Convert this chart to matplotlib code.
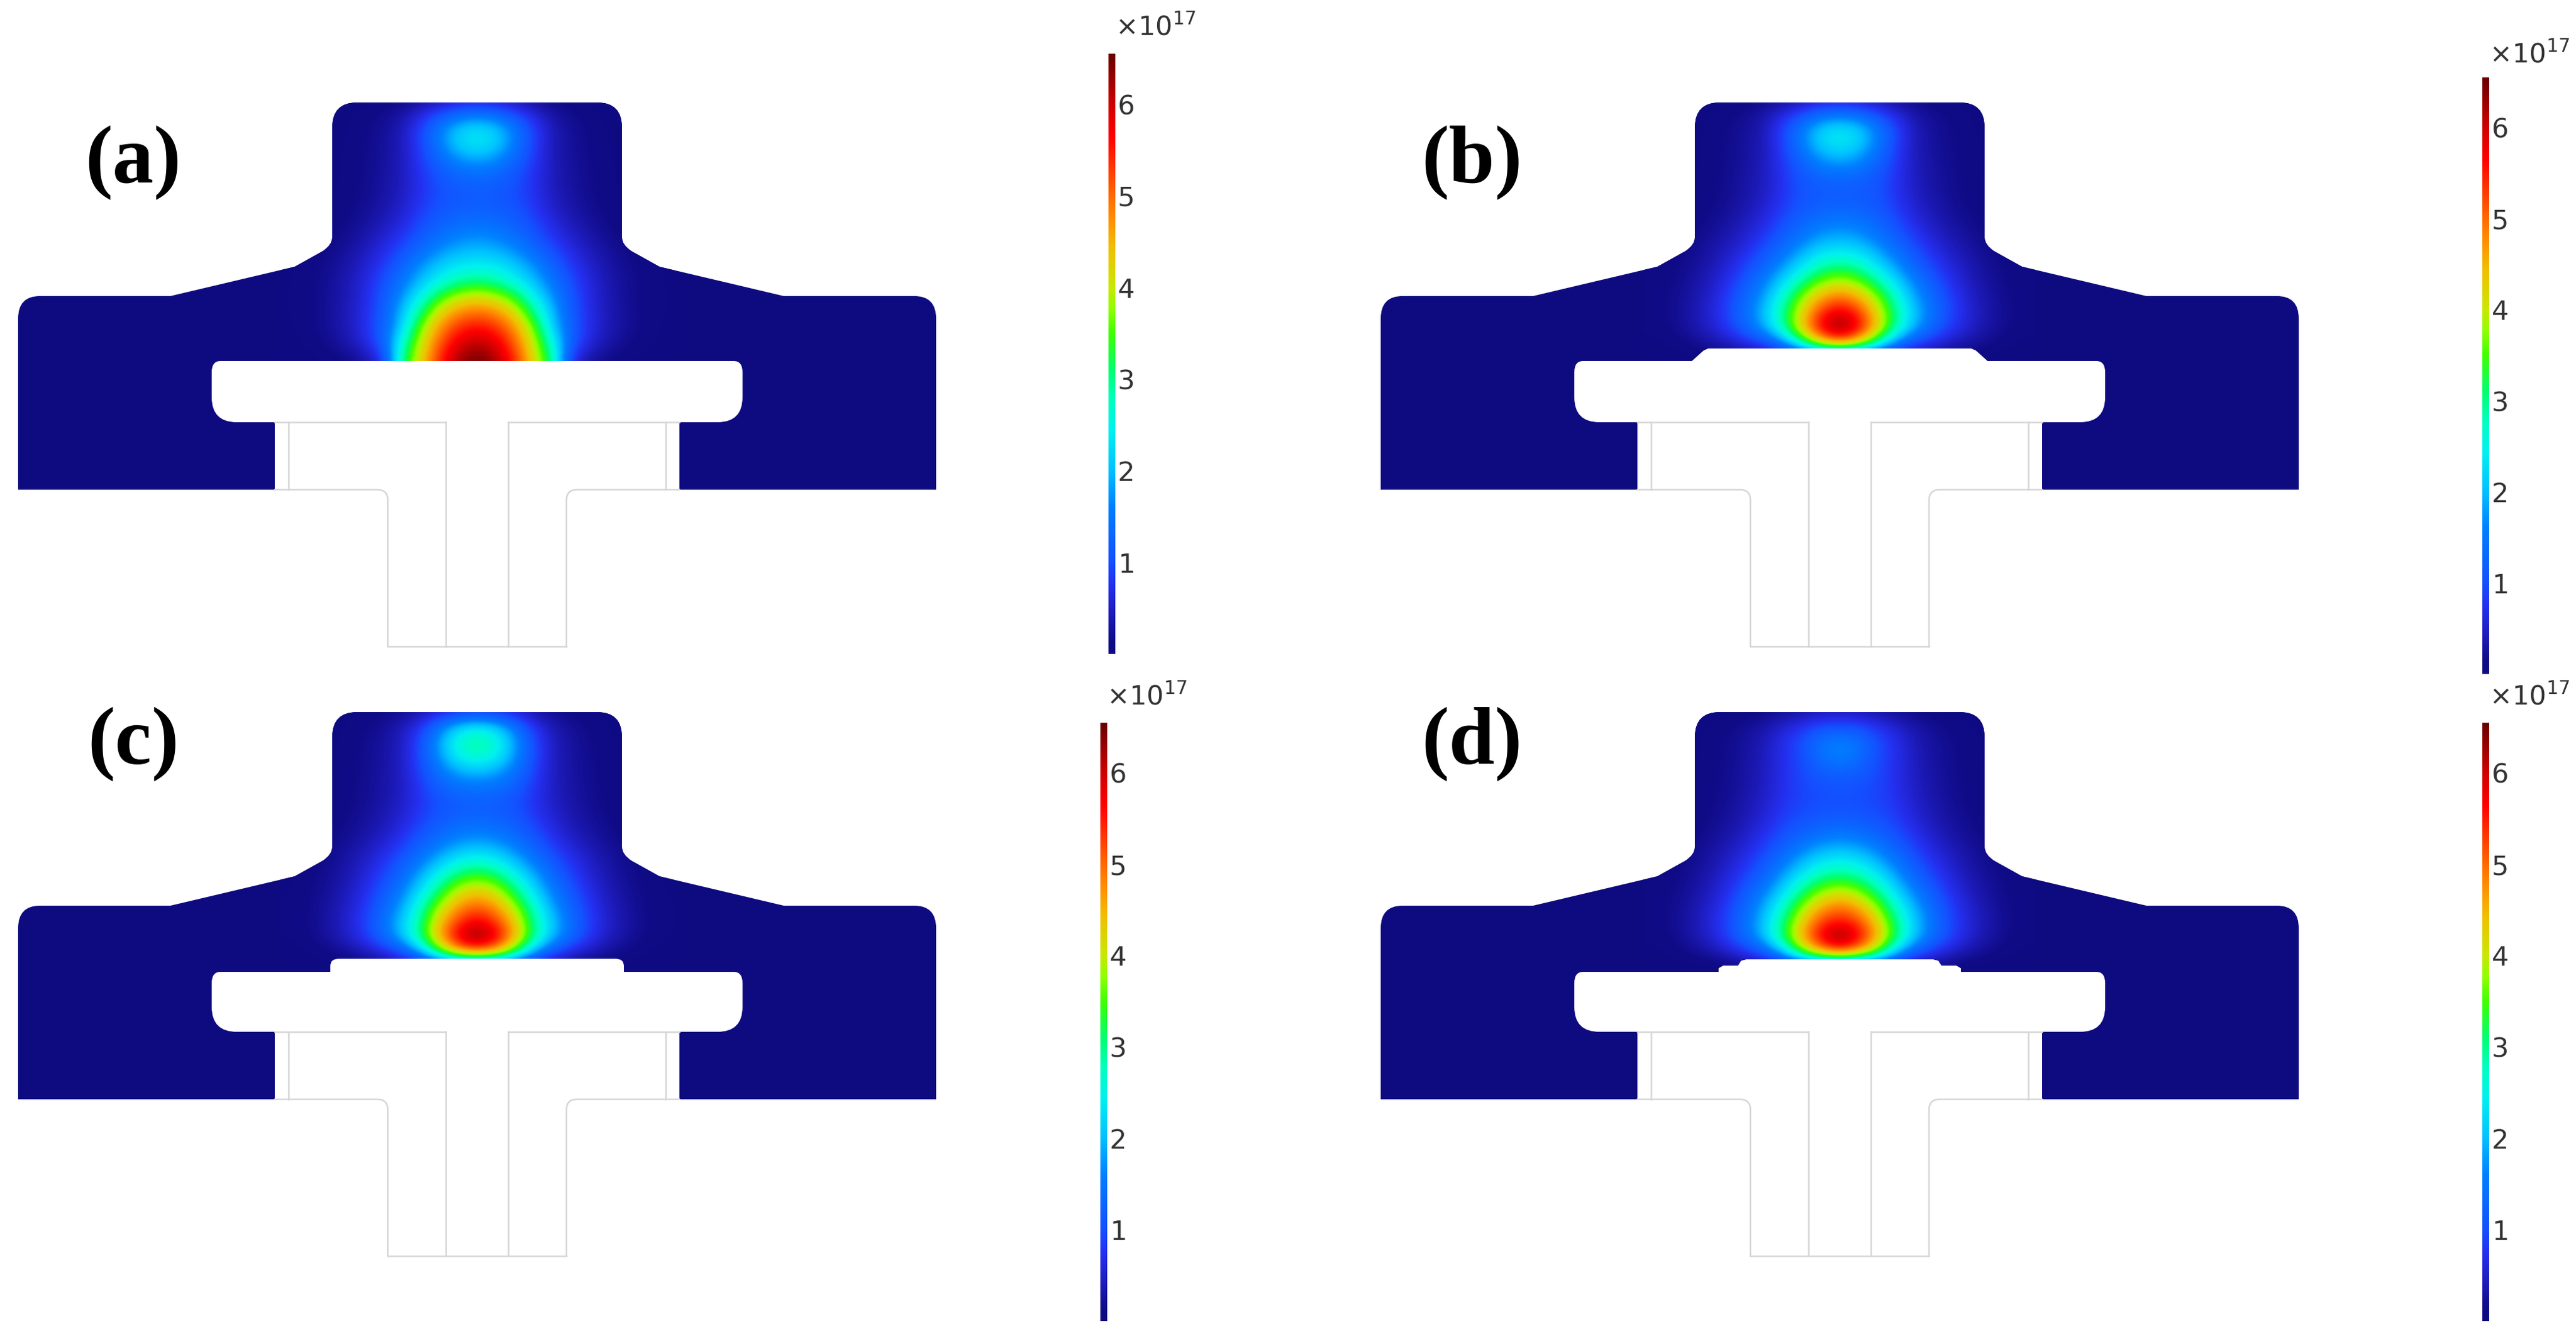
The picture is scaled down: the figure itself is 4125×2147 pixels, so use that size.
import numpy as np
import matplotlib
matplotlib.use("Agg")
import matplotlib.pyplot as plt
from matplotlib.colors import LinearSegmentedColormap, Normalize
from matplotlib.cm import ScalarMappable
from matplotlib.patches import PathPatch
from matplotlib.path import Path

plt.rcParams['mathtext.default'] = 'regular'

W, H = 4125, 2147

# density, unit 1e17, half of each panel (it is mirrored)
# columns: distance from centre line, rows: height in the picture
dx_step = 30
y_rows = [164 + 24 * i for i in range(19)]

field_a = [
    [.60, .55, .42, .28, .15, .10, .05, .03, 0, 0, 0],
    [1.7, 1.55, 1.15, .70, .34, .20, .12, .06, .02, 0, 0],
    [2.4, 2.2, 1.6, .92, .42, .24, .14, .07, .03, 0, 0],
    [2.3, 2.1, 1.5, .88, .42, .25, .15, .08, .03, 0, 0],
    [1.75, 1.6, 1.25, .82, .43, .26, .16, .09, .04, 0, 0],
    [1.3, 1.25, 1.05, .75, .44, .28, .17, .10, .04, .02, 0],
    [1.15, 1.12, 1.0, .76, .46, .30, .18, .10, .05, .03, .01],
    [1.2, 1.15, 1.05, .82, .52, .34, .21, .12, .06, .04, .02],
    [1.4, 1.35, 1.2, .96, .64, .42, .26, .15, .08, .05, .03],
    [1.7, 1.62, 1.42, 1.12, .80, .54, .34, .20, .12, .07, .04],
    [2.05, 1.98, 1.75, 1.4, 1.02, .70, .44, .27, .16, .09, .05],
    [2.5, 2.4, 2.15, 1.75, 1.28, .85, .54, .33, .19, .11, .06],
    [3.1, 2.95, 2.55, 2.05, 1.5, 1.0, .62, .37, .22, .12, .07],
    [4.2, 3.95, 3.4, 2.5, 1.75, 1.1, .65, .38, .22, .12, .07],
    [5.0, 4.8, 4.2, 3.05, 2.0, 1.15, .68, .40, .23, .13, .07],
    [5.6, 5.4, 4.75, 3.65, 2.15, 1.2, .70, .40, .23, .12, .06],
    [6.1, 5.85, 5.1, 4.0, 2.6, 1.2, .60, .33, .18, .10, .05],
    [6.5, 6.2, 5.4, 4.2, 3.0, .80, .35, .18, .10, .05, .02],
    [6.6, 6.3, 5.5, 4.3, 3.1, .50, .20, .10, .05, 0, 0],
]

field_b = [
    [.60, .55, .42, .28, .18, .11, .07, .04, .02, 0, 0],
    [1.7, 1.55, 1.15, .72, .36, .22, .14, .08, .04, .01, 0],
    [2.45, 2.25, 1.6, .95, .42, .25, .16, .09, .04, .02, 0],
    [2.3, 2.1, 1.5, .88, .43, .26, .17, .10, .05, .02, 0],
    [1.8, 1.65, 1.25, .82, .44, .28, .18, .11, .05, .03, 0],
    [1.3, 1.25, 1.08, .78, .46, .30, .19, .11, .05, .03, 0],
    [1.15, 1.12, 1.05, .78, .48, .32, .20, .12, .06, .03, .01],
    [1.25, 1.22, 1.1, .85, .55, .37, .23, .14, .07, .04, .02],
    [1.55, 1.48, 1.28, 1.0, .68, .45, .29, .18, .10, .06, .03],
    [1.9, 1.8, 1.5, 1.2, .84, .56, .37, .24, .14, .08, .04],
    [2.4, 2.3, 1.9, 1.45, 1.05, .72, .48, .30, .18, .10, .05],
    [3.1, 2.9, 2.35, 1.8, 1.3, .92, .60, .37, .22, .13, .07],
    [4.0, 3.7, 3.0, 2.25, 1.6, 1.12, .72, .44, .26, .15, .08],
    [5.0, 4.6, 3.75, 2.7, 1.85, 1.3, .85, .50, .30, .17, .10],
    [5.9, 5.4, 4.2, 3.0, 2.05, 1.4, .90, .55, .32, .18, .10],
    [6.5, 5.8, 4.4, 2.9, 1.9, 1.25, .80, .50, .30, .16, .09],
    [5.0, 4.4, 3.0, 1.7, 1.0, .70, .45, .30, .18, .10, .05],
    [.2, .2, .18, .15, .12, .10, .08, .06, .04, .03, .02],
    [0, 0, 0, 0, 0, 0, 0, 0, 0, 0, 0],
]

field_c = [
    [.80, .72, .55, .33, .20, .13, .08, .05, .02, 0, 0],
    [2.4, 2.15, 1.5, .80, .40, .24, .15, .08, .04, .01, 0],
    [3.0, 2.7, 1.85, 1.0, .47, .28, .17, .10, .05, .02, 0],
    [2.7, 2.45, 1.75, 1.0, .48, .29, .18, .11, .05, .02, 0],
    [2.0, 1.85, 1.45, .92, .48, .30, .19, .11, .06, .03, 0],
    [1.45, 1.4, 1.2, .82, .48, .31, .20, .12, .06, .03, 0],
    [1.2, 1.15, 1.02, .78, .50, .33, .21, .13, .07, .04, .01],
    [1.25, 1.22, 1.1, .85, .58, .38, .25, .15, .08, .05, .02],
    [1.55, 1.48, 1.28, 1.02, .70, .46, .30, .19, .11, .07, .03],
    [2.0, 1.88, 1.6, 1.25, .88, .60, .40, .25, .15, .08, .04],
    [2.7, 2.5, 2.05, 1.55, 1.12, .78, .50, .31, .18, .10, .05],
    [3.5, 3.25, 2.6, 1.95, 1.35, .92, .60, .36, .21, .12, .06],
    [4.4, 4.05, 3.2, 2.3, 1.6, 1.1, .70, .42, .25, .14, .07],
    [5.1, 4.75, 3.85, 2.75, 1.85, 1.25, .80, .48, .28, .15, .08],
    [5.8, 5.35, 4.4, 3.0, 2.1, 1.4, .87, .52, .30, .16, .09],
    [6.5, 5.9, 4.6, 3.1, 2.0, 1.3, .80, .47, .27, .14, .07],
    [5.0, 4.6, 3.4, 1.9, 1.05, .65, .40, .25, .15, .08, .04],
    [.2, .2, .15, .12, .10, .08, .06, .05, .03, .02, .01],
    [0, 0, 0, 0, 0, 0, 0, 0, 0, 0, 0],
]

field_d = [
    [.40, .38, .30, .22, .14, .09, .05, .03, .01, 0, 0],
    [1.05, 1.0, .78, .55, .34, .22, .14, .08, .04, .01, 0],
    [1.6, 1.45, 1.0, .72, .42, .27, .17, .10, .05, .02, 0],
    [1.6, 1.4, .98, .72, .44, .28, .18, .11, .05, .02, 0],
    [1.25, 1.15, .95, .72, .46, .30, .19, .11, .06, .03, 0],
    [1.05, 1.02, .92, .73, .48, .32, .20, .12, .06, .03, 0],
    [1.0, .98, .92, .78, .52, .35, .22, .13, .07, .03, .01],
    [1.12, 1.1, 1.0, .85, .60, .40, .26, .16, .08, .04, .02],
    [1.45, 1.38, 1.2, 1.0, .72, .48, .31, .19, .11, .06, .03],
    [1.9, 1.8, 1.55, 1.2, .88, .60, .40, .25, .15, .08, .04],
    [2.5, 2.35, 1.95, 1.5, 1.08, .75, .50, .30, .18, .10, .05],
    [3.1, 2.95, 2.45, 1.85, 1.3, .92, .60, .37, .22, .13, .07],
    [4.1, 3.75, 3.05, 2.25, 1.6, 1.12, .72, .44, .26, .15, .08],
    [4.95, 4.6, 3.75, 2.7, 1.9, 1.3, .85, .52, .30, .17, .10],
    [5.6, 5.3, 4.3, 3.05, 2.1, 1.42, .92, .57, .33, .18, .10],
    [6.5, 5.8, 4.6, 3.2, 2.05, 1.35, .88, .52, .30, .16, .09],
    [5.2, 4.7, 3.6, 2.1, 1.2, .78, .50, .30, .18, .10, .05],
    [.3, .28, .22, .18, .14, .10, .08, .05, .03, .02, .01],
    [0, 0, 0, 0, 0, 0, 0, 0, 0, 0, 0],
]

panel_names = ['(a)', '(b)', '(c)', '(d)']
panel_fields = [field_a, field_b, field_c, field_d]
centre_x = [764, 2946, 764, 2946]
shift_y = [0, 0, 976, 976]
label_xy = [(213, 260), (2357, 260), (213, 1191), (2357, 1191)]

# electrode outline, right half, (dx, y, is_curve_control)
outline_common = [(0, 164, 0), (192, 164, 0), (232, 164, 1), (232, 204, 0), (232, 380, 0),
                  (232, 392, 1), (247, 402, 0), (292, 427, 0), (491, 474, 0), (700, 474, 0),
                  (735, 474, 1), (735, 510, 0), (735, 784, 0), (324, 784, 0), (324, 676, 0),
                  (385, 676, 0), (425, 676, 1), (425, 636, 0)]
# the raised top of the inner piece differs per panel
steps = [
    [(425, 596, 0), (425, 578, 1), (411, 578, 0), (0, 578, 0)],
    [(425, 596, 0), (425, 578, 1), (411, 578, 0), (237, 578, 0), (218, 561, 0), (211, 558, 0), (0, 558, 0)],
    [(425, 598, 0), (425, 580, 1), (411, 580, 0), (235, 580, 0), (235, 570, 0), (235, 559, 1), (222, 559, 0),
     (0, 559, 0)],
    [(425, 598, 0), (425, 580, 1), (411, 580, 0), (194, 580, 0), (194, 574, 0), (187, 570, 0), (163, 570, 0),
     (158, 562, 0), (150, 560, 0), (0, 560, 0)],
]

# grey mesh lines below the cathode
grey_lines = [
    [(50, 676), (324, 676)],
    [(50, 676), (50, 1035)],
    [(302, 676), (302, 784)],
    [(143, 1035), (-143, 1035)],
]
grey_bend = [(324, 784), (160, 784), (143, 784), (143, 801), (143, 1035)]

# colour bars, in picture pixels
bar_x = [1775, 3975, 1762, 3975]
bar_top = [86, 124, 1157, 1157]
bar_bottom = [1047, 1079, 2115, 2115]
mult_xy = [(1786, 56), (3986, 100), (1772, 1128), (3986, 1128)]
bar_ticks = [1, 2, 3, 4, 5, 6]

vmax = 6.55
cmap_stops = [(0, '#0e0a80'), (.15, '#100c88'), (.3, '#1814a4'), (.5, '#2020c8'), (.75, '#2430f0'), (1, '#1450ff'),
              (1.6, '#0080ff'), (2, '#00c0ff'), (2.43, '#00f0f0'), (2.77, '#00ffc0'), (3.1, '#00ff70'),
              (3.5, '#40ff00'), (3.77, '#90ff00'), (4, '#c8e800'), (4.43, '#f0c000'), (4.77, '#ff8c00'),
              (5, '#ff6a00'), (5.65, '#ff0000'), (6, '#d00000'), (6.55, '#6a0000')]
cmap = LinearSegmentedColormap.from_list('density', [(v / vmax, c) for v, c in cmap_stops], N=512)
norm = Normalize(0, vmax)
navy = cmap_stops[0][1]
grey = '#d6d6d6'


def half_polyline(points):
    # flatten the fillets of one half into a plain polyline
    verts = [(p[0], p[1]) for p in points]
    codes = [Path.MOVETO]
    for p in points[1:]:
        codes.append(Path.LINETO)
    i = 1
    while i < len(points):
        if points[i][2]:
            codes[i] = Path.CURVE3
            codes[i + 1] = Path.CURVE3
            i += 2
        else:
            i += 1
    return Path(verts, codes).to_polygons(closed_only=False)[0]


fig = plt.figure(figsize=(W / 100, H / 100), dpi=100, facecolor='white')
ax = fig.add_axes([0, 0, 1, 1])

for i in range(4):
    cx, sy = centre_x[i], shift_y[i]
    half = half_polyline(outline_common + steps[i])
    left = half[::-1] * [-1, 1]
    poly = np.vstack([half, left]) + [cx, sy]
    body = PathPatch(Path(poly, closed=False), facecolor=navy, edgecolor='none', zorder=1)
    ax.add_patch(body)

    right_half = np.array(panel_fields[i])
    grid = np.hstack([right_half[:, :0:-1], right_half])
    half_w = dx_step * (right_half.shape[1] - 1) + dx_step / 2
    im = ax.imshow(grid, cmap=cmap, norm=norm, aspect='auto', interpolation='bicubic',
                   interpolation_stage='data', origin='upper', zorder=2,
                   extent=[cx - half_w, cx + half_w, y_rows[-1] + 12 + sy, y_rows[0] - 12 + sy])
    im.set_clip_path(body)

    for seg in grey_lines:
        xs = np.array([p[0] for p in seg])
        ys = np.array([p[1] for p in seg]) + sy
        ax.plot(cx + xs, ys, color=grey, lw=1.8, zorder=3)
        if seg[0][0] != -seg[1][0]:
            ax.plot(cx - xs, ys, color=grey, lw=1.8, zorder=3)
    bend = Path([(x, y + sy) for x, y in grey_bend],
                [Path.MOVETO, Path.LINETO, Path.CURVE3, Path.CURVE3, Path.LINETO]).to_polygons(closed_only=False)[0]
    ax.plot(cx + bend[:, 0], bend[:, 1], color=grey, lw=1.8, zorder=3)
    ax.plot(cx - bend[:, 0], bend[:, 1], color=grey, lw=1.8, zorder=3)

    ax.text(label_xy[i][0], label_xy[i][1], panel_names[i], family='Liberation Serif', weight='bold',
            fontsize=95, ha='center', va='center', color='black')
    ax.text(mult_xy[i][0], mult_xy[i][1], r'$\times10^{17}$', fontsize=31, color='#333333',
            ha='left', va='baseline')

    cax = fig.add_axes([bar_x[i] / W, 1 - bar_bottom[i] / H, 11 / W, (bar_bottom[i] - bar_top[i]) / H])
    cb = fig.colorbar(ScalarMappable(norm=norm, cmap=cmap), cax=cax, ticks=bar_ticks)
    cb.outline.set_visible(False)
    cax.tick_params(length=0, labelsize=31, pad=3, labelcolor='#333333')

ax.set_xlim(0, W)
ax.set_ylim(H, 0)
ax.axis('off')

fig.savefig('out.png', dpi=100, facecolor='white')
